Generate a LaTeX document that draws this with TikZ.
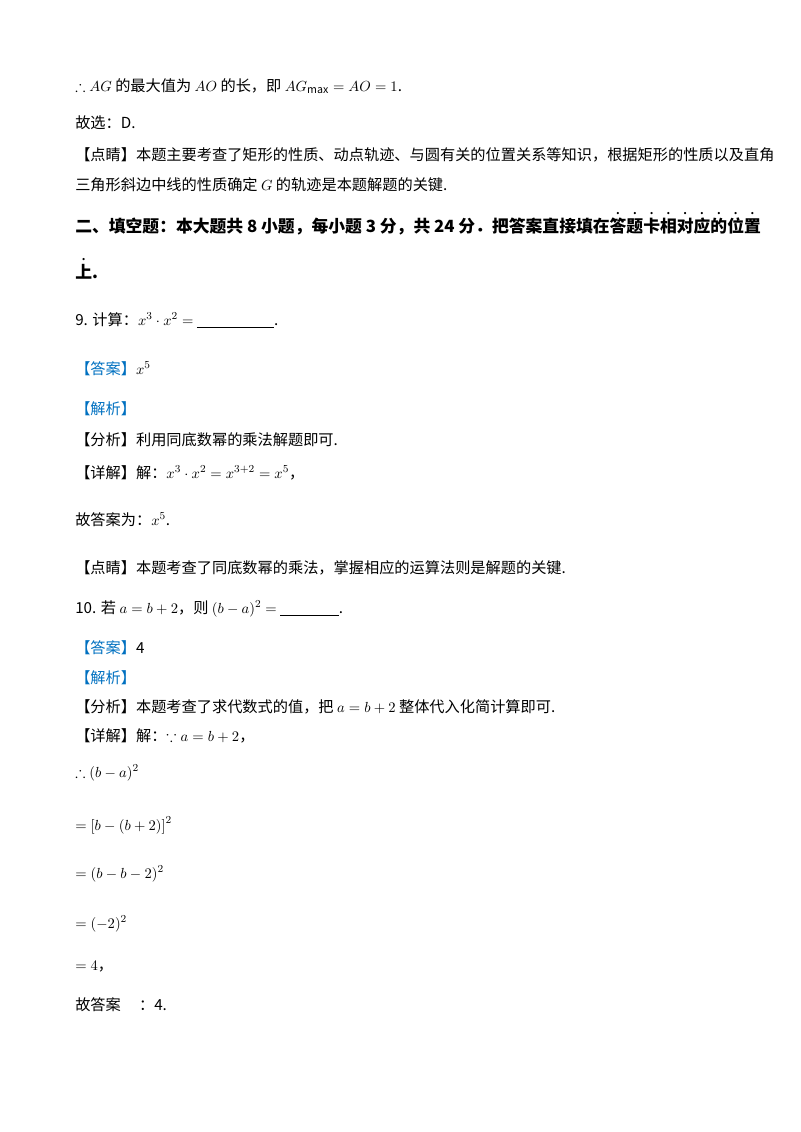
\documentclass[tikz,border=0pt]{standalone}
\usepackage{amsmath,amssymb}
\usepackage{fontspec}
\setmainfont{Noto Sans CJK SC}
\usetikzlibrary{positioning}
\definecolor{AnsBlue}{RGB}{0,112,192}
% dot above a character
\newcommand\zd[1]{\leavevmode\ooalign{#1\cr\hidewidth\raisebox{1.05em}{\normalfont.}\hidewidth\cr}}
\newcommand\blank[1]{\underline{\hspace{#1}}}

\begin{document}
\begin{tikzpicture}[x=0.75pt, y=-0.75pt,
  line/.style={anchor=base west, inner sep=0pt, font=\fontsize{11.4}{14}\selectfont},
  head/.style={line, font=\fontsize{12.6}{15}\selectfont\bfseries}
]
  \useasboundingbox (0,0) rectangle (800,1132);
  \node (l1) [line] at (75,91) {$\therefore AG$ 的最大值为 $AO$ 的长，即 $AG_{\max}=AO=1$.};
  \node (l2) [line] at (75,128) {故选：D.};
  \node (l3) [line] at (75,160) {【点睛】本题主要考查了矩形的性质、动点轨迹、与圆有关的位置关系等知识，根据矩形的性质以及直角};
  \node (l4) [line] at (75,190) {三角形斜边中线的性质确定 $G$ 的轨迹是本题解题的关键.};
  \node (h1) [head] at (75,232) {二、填空题：本大题共 8 小题，每小题 3 分，共 24 分．把答案直接填在\zd{答}\zd{题}\zd{卡}\zd{相}\zd{对}\zd{应}\zd{的}\zd{位}\zd{置}};
  \node (h2) [head] at (75,278) {\zd{上}.};
  \node (q9) [line] at (75,325) {9. 计算：$x^3\cdot x^2=$ \blank{58pt}.};
  \node (a9) [line] at (75,374) {\textcolor{AnsBlue}{【答案】}$x^5$};
  \node (j9) [line] at (75,414) {\textcolor{AnsBlue}{【解析】}};
  \node (f9) [line] at (75,445) {【分析】利用同底数幂的乘法解题即可.};
  \node (x9) [line] at (75,478) {【详解】解：$x^3\cdot x^2=x^{3+2}=x^5$，};
  \node (g9) [line] at (75,525) {故答案为：$x^5$.};
  \node (d9) [line] at (75,573) {【点睛】本题考查了同底数幂的乘法，掌握相应的运算法则是解题的关键.};
  \node (q10) [line] at (75,613) {10. 若 $a=b+2$，则 $(b-a)^2=$ \blank{44pt}.};
  \node (a10) [line] at (75,653) {\textcolor{AnsBlue}{【答案】}4};
  \node (j10) [line] at (75,683) {\textcolor{AnsBlue}{【解析】}};
  \node (f10) [line] at (75,712) {【分析】本题考查了求代数式的值，把 $a=b+2$ 整体代入化简计算即可.};
  \node (x10) [line] at (75,741) {【详解】解：$\because a=b+2$，};
  \node (s1) [line] at (75,777) {$\therefore (b-a)^2$};
  \node (s2) [line] at (75,830) {$=\left[b-(b+2)\right]^2$};
  \node (s3) [line] at (75,878) {$=(b-b-2)^2$};
  \node (s4) [line] at (75,928) {$=(-2)^2$};
  \node (s5) [line] at (75,970) {$=4$，};
  \node (g10) [line] at (75,1010) {故答案\hspace{1.2em}：4.};
\end{tikzpicture}
\end{document}
